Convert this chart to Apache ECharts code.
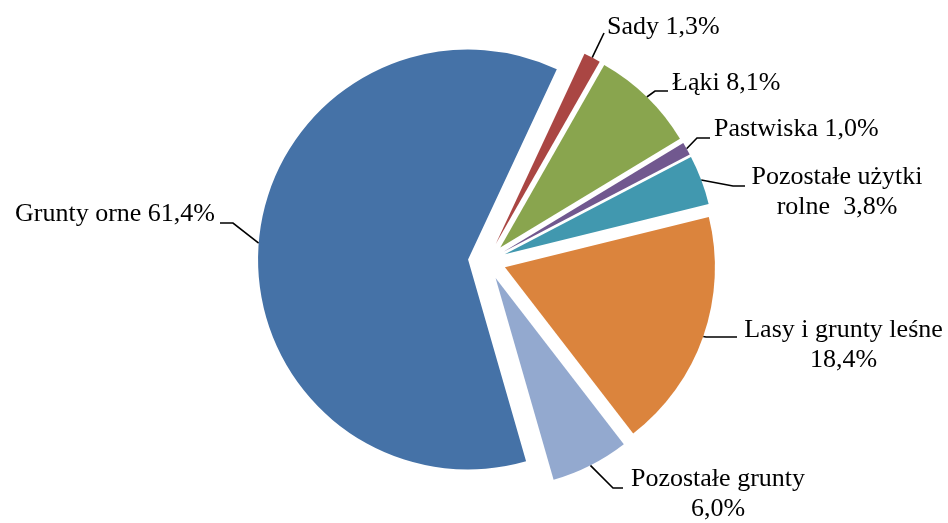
<!DOCTYPE html>
<html>
<head>
<meta charset="utf-8">
<script src="https://cdn.jsdelivr.net/npm/echarts@6/dist/echarts.min.js"></script>
<style>html,body{margin:0;padding:0;background:#fff;}#c{width:948px;height:523px;}</style>
</head>
<body>
<div id="c"></div>
<script>
// ---- data ----
var names = ['Sady', 'Łąki', 'Pastwiska', 'Pozostałe użytki\nrolne', 'Lasy i grunty leśne', 'Pozostałe grunty', 'Grunty orne'];
var separators = [' ', ' ', ' ', '  ', '\n', '\n', ' '];
var values = [1.3, 8.1, 1.0, 3.8, 18.4, 6.0, 61.4];
var colors = ['#AA4643', '#89A54E', '#71588F', '#4198AF', '#DB843D', '#93A9CF', '#4572A7'];

// ---- layout (label anchors: x, first-line middle y, align; leader elbow and end) ----
var CX = 487, CY = 261, R = 210, OFFSET = 19, START = 65;
var labelAnchors = [
  [607, 27, 'left'], [672, 83, 'left'], [714, 129, 'left'], [837, 177, 'center'],
  [843.5, 330, 'center'], [718, 479, 'center'], [215, 214, 'right']
];
var leaderPts = [
  [[604, 33], [604, 33]], [[655, 91], [668, 91]], [[697, 138], [710, 138]], [[733, 186], [745, 186]],
  [[706, 337], [737, 337]], [[613, 488], [623, 488]], [[233, 223], [220, 223]]
];
var LINE_H = 30;

var total = values.reduce(function (a, b) { return a + b; }, 0);
function midAngle(i) {
  var before = 0;
  for (var k = 0; k < i; k++) before += values[k];
  return (START - 360 * (before + values[i] / 2) / total) * Math.PI / 180;
}

var chart = echarts.init(document.getElementById('c'), null, {renderer: 'canvas'});

var sliceData = values.map(function (v, i) {
  return { name: names[i], value: v, selected: true, itemStyle: { color: colors[i] } };
});
var labelData = values.map(function (v, i) {
  return { name: names[i], value: v };
});

chart.setOption({
  animation: false,
  backgroundColor: '#ffffff',
  series: [{
    type: 'pie',
    center: [CX, CY],
    radius: [0, R],
    startAngle: START,
    clockwise: true,
    selectedMode: 'multiple',
    selectedOffset: OFFSET,
    emphasis: { disabled: true },
    itemStyle: { borderWidth: 0 },
    label: { show: false },
    labelLine: { show: false },
    data: sliceData
  }, {
    type: 'pie',
    silent: true,
    center: [CX, CY],
    radius: [0, R],
    startAngle: START,
    clockwise: true,
    selectedMode: false,
    avoidLabelOverlap: false,
    emphasis: { disabled: true },
    itemStyle: { color: 'rgba(0,0,0,0)', borderWidth: 0 },
    label: {
      show: true,
      position: 'outside',
      color: '#000',
      fontFamily: 'Liberation Serif',
      fontSize: 26,
      lineHeight: LINE_H,
      formatter: function (p) {
        return p.name + separators[p.dataIndex] + p.value.toFixed(1).replace('.', ',') + '%';
      }
    },
    labelLine: { show: true, lineStyle: { color: '#000', width: 1.6 } },
    labelLayout: function (params) {
      var i = params.dataIndex;
      var a = midAngle(i);
      var edge = [CX + (R + OFFSET) * Math.cos(a), CY - (R + OFFSET) * Math.sin(a)];
      var an = labelAnchors[i];
      return {
        x: an[0],
        y: an[1] - LINE_H / 2,
        align: an[2],
        verticalAlign: 'top',
        labelLinePoints: [edge, leaderPts[i][0], leaderPts[i][1]]
      };
    },
    data: labelData
  }]
});
</script>
</body>
</html>
